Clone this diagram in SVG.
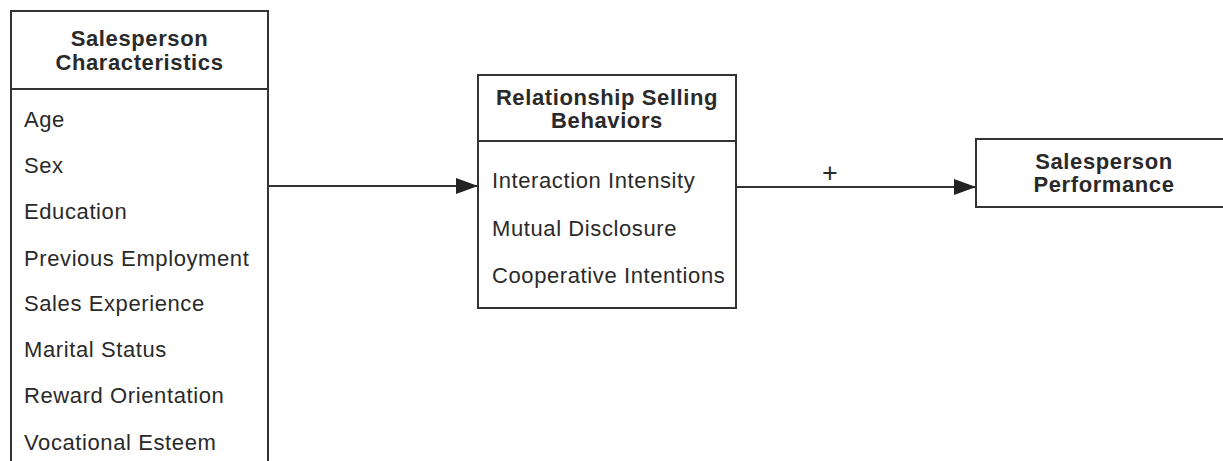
<svg xmlns="http://www.w3.org/2000/svg" width="1223" height="461" viewBox="0 0 1223 461">
<style>
.box{fill:#fff;stroke:#333;stroke-width:2}
.div{stroke:#333;stroke-width:2}
.h{font-family:"Liberation Sans",Arial,sans-serif;font-weight:bold;font-size:22px;letter-spacing:0.6px;fill:#2a2a2a;text-anchor:middle}
.t{font-family:"Liberation Sans",Arial,sans-serif;font-size:22px;letter-spacing:0.6px;fill:#2a2a2a}
.plus{font-family:"Liberation Sans",Arial,sans-serif;font-size:27px;fill:#2a2a2a;text-anchor:middle}
.conn{stroke:#333;stroke-width:2;fill:none}
</style>
<defs>
<marker id="arr" markerUnits="userSpaceOnUse" markerWidth="22" markerHeight="16" refX="22" refY="8" orient="auto">
<path d="M0,0 L22,8 L0,16 Z" fill="#222"/>
</marker>
</defs>
<rect width="1223" height="461" fill="#fff"/>
<g id="connectors">
<line class="conn" x1="268" y1="186" x2="478" y2="186" marker-end="url(#arr)"/>
<line class="conn" x1="736" y1="187" x2="976" y2="187" marker-end="url(#arr)"/>
<text class="plus" x="830" y="182">+</text>
</g>
<g id="salesperson-characteristics">
<rect class="box" x="11" y="11" width="257" height="470"/>
<line class="div" x1="11" y1="89" x2="268" y2="89"/>
<text class="h" x="139.5" y="46">Salesperson</text>
<text class="h" x="139.5" y="69.5">Characteristics</text>
<text class="t" x="24" y="127">Age</text>
<text class="t" x="24" y="173">Sex</text>
<text class="t" x="24" y="219">Education</text>
<text class="t" x="24" y="265.5">Previous Employment</text>
<text class="t" x="24" y="311">Sales Experience</text>
<text class="t" x="24" y="357">Marital Status</text>
<text class="t" x="24" y="403">Reward Orientation</text>
<text class="t" x="24" y="450">Vocational Esteem</text>
</g>
<g id="relationship-selling-behaviors">
<rect class="box" x="478" y="75" width="258" height="233"/>
<line class="div" x1="478" y1="141" x2="736" y2="141"/>
<text class="h" x="607" y="105">Relationship Selling</text>
<text class="h" x="607" y="128">Behaviors</text>
<text class="t" x="492" y="188">Interaction Intensity</text>
<text class="t" x="492" y="235.5">Mutual Disclosure</text>
<text class="t" x="492" y="283">Cooperative Intentions</text>
</g>
<g id="salesperson-performance">
<rect class="box" x="976" y="139" width="260" height="68"/>
<text class="h" x="1104" y="169">Salesperson</text>
<text class="h" x="1104" y="192">Performance</text>
</g>
</svg>
